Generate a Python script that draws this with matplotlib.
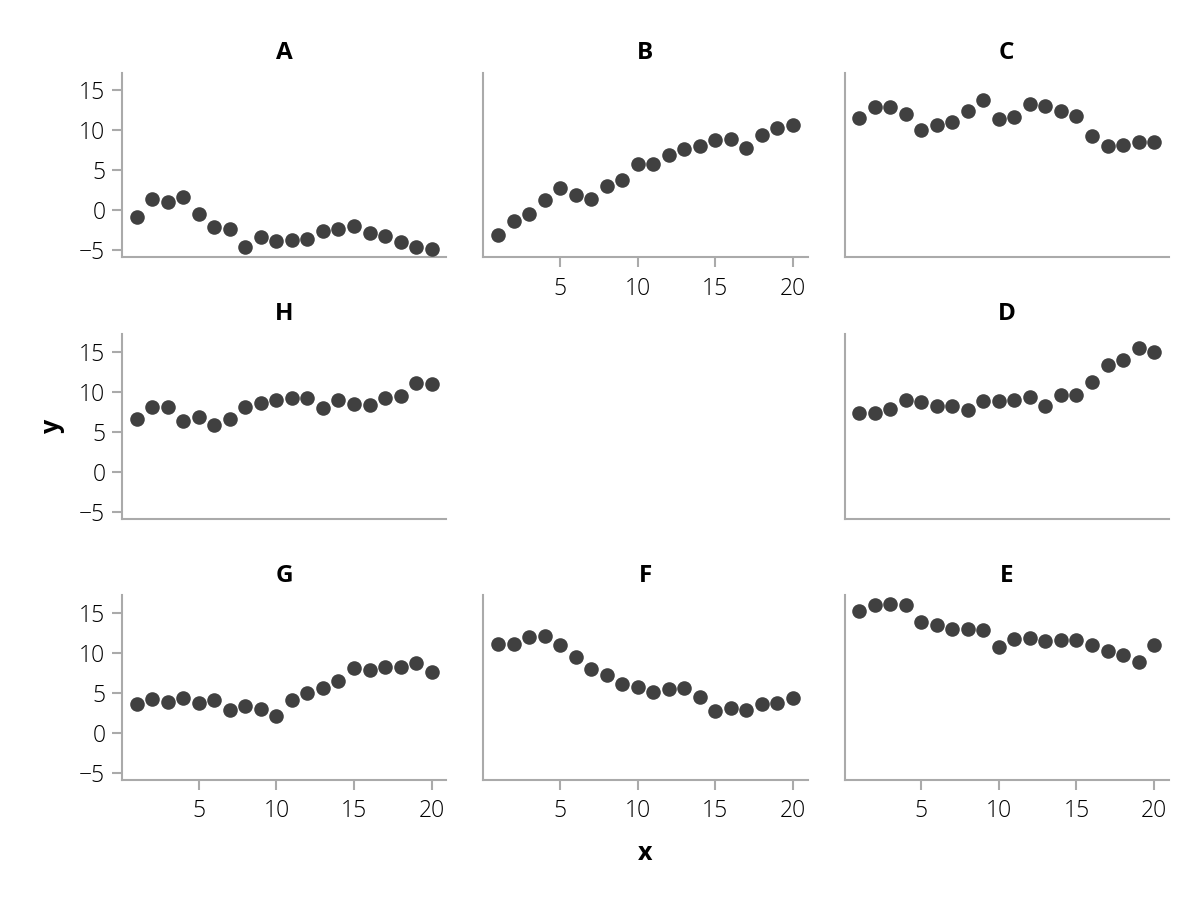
import numpy as np
import matplotlib
matplotlib.use("Agg")
import matplotlib.pyplot as plt

plt.rcParams['font.family'] = ['Open Sans', 'DejaVu Sans']

x = np.arange(1, 21)

# facet values
A = [-0.83, 1.42, 1.04, 1.67, -0.46, -2.05, -2.34, -4.6, -3.35, -3.85,
     -3.76, -3.55, -2.63, -2.38, -1.96, -2.84, -3.26, -3.97, -4.55, -4.84]
B = [-3.05, -1.38, -0.42, 1.25, 2.8, 1.88, 1.46, 3.0, 3.8, 5.85,
     5.76, 6.97, 7.72, 8.06, 8.81, 8.98, 7.77, 9.44, 10.35, 10.69]
C = [11.61, 12.94, 12.9, 12.11, 10.1, 10.69, 11.06, 12.44, 13.86, 11.4,
     11.73, 13.32, 13.03, 12.48, 11.77, 9.35, 8.02, 8.18, 8.6, 8.6]
D = [7.29, 7.29, 7.87, 8.92, 8.67, 8.21, 8.25, 7.75, 8.84, 8.84,
     8.92, 9.3, 8.25, 9.63, 9.55, 11.23, 13.28, 13.99, 15.46, 15.0]
E = [15.3, 16.02, 16.14, 15.97, 13.84, 13.5, 13.04, 13.0, 12.83, 10.73,
     11.74, 11.86, 11.53, 11.57, 11.57, 10.98, 10.19, 9.73, 8.89, 10.98]
F = [11.1, 11.15, 11.94, 12.07, 11.06, 9.47, 7.96, 7.25, 6.08, 5.78,
     5.07, 5.49, 5.61, 4.48, 2.72, 3.18, 2.93, 3.64, 3.69, 4.4]
G = [3.6, 4.27, 3.85, 4.31, 3.77, 4.1, 2.84, 3.35, 3.05, 2.13,
     4.1, 5.02, 5.61, 6.45, 8.08, 7.92, 8.25, 8.25, 8.71, 7.62]
H = [6.57, 8.12, 8.04, 6.28, 6.82, 5.82, 6.53, 8.08, 8.63, 8.96,
     9.26, 9.17, 8.0, 8.96, 8.42, 8.38, 9.17, 9.5, 11.06, 11.02]

layout = [['A', 'B', 'C'],
          ['H', None, 'D'],
          ['G', 'F', 'E']]
series = {'A': A, 'B': B, 'C': C, 'D': D, 'E': E, 'F': F, 'G': G, 'H': H}

spine_col = '#aaaaaa'
dot_col = '#404040'

fig, axes = plt.subplots(3, 3, figsize=(12, 9), dpi=100, sharex=True, sharey=True)
fig.subplots_adjust(left=0.1017, right=0.974, top=0.919, bottom=0.1333,
                    wspace=0.114, hspace=0.416)

for r in range(3):
    for c in range(3):
        ax = axes[r, c]
        name = layout[r][c]
        if name is None:
            ax.set_visible(False)
            continue
        ax.scatter(x, series[name], s=110, color=dot_col, linewidths=0, zorder=3)
        ax.set_title(name, fontsize=17.5, fontweight='bold', pad=10)
        for s in ['top', 'right']:
            ax.spines[s].set_visible(False)
        for s in ['left', 'bottom']:
            ax.spines[s].set_color(spine_col)
            ax.spines[s].set_linewidth(1.5)
        ax.tick_params(colors=spine_col, labelcolor='black', labelsize=16.5,
                       length=7, width=1.5)
        ax.tick_params(axis='y', pad=5)
        ax.tick_params(axis='x', pad=7)
        ax.set_xticks([5, 10, 15, 20])
        ax.set_yticks([-5, 0, 5, 10, 15])
        # x ticks only where nothing sits below the panel
        show_x = (r == 2) or (r == 0 and c == 1)
        if not show_x:
            ax.tick_params(axis='x', bottom=False, labelbottom=False)
        else:
            ax.tick_params(axis='x', labelbottom=True)
        if c != 0:
            ax.tick_params(axis='y', left=False, labelleft=False)
        for lab in ax.get_xticklabels() + ax.get_yticklabels():
            lab.set_fontweight('light')

fig.text(0.044, 0.527, 'y', fontsize=18, fontweight='bold', rotation=90,
         ha='center', va='center')
fig.text(0.5375, 0.052, 'x', fontsize=18, fontweight='bold',
         ha='center', va='center')

fig.savefig('out.png', dpi=100)
